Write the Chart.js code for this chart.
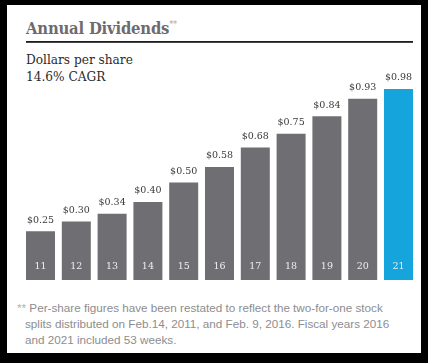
<!DOCTYPE html>
<html>
<head>
<meta charset="utf-8">
<script src="https://cdn.jsdelivr.net/npm/chart.js@4"></script>
<style>
  html, body { margin: 0; padding: 0; }
  body { width: 428px; height: 363px; background: #000; position: relative; overflow: hidden; }
  .panel { position: absolute; left: 7px; top: 5px; width: 414px; height: 348px; background: #fff; }
  .title { position: absolute; left: 19px; top: 14px; font-family: "DejaVu Serif"; font-stretch: condensed; font-weight: bold; font-size: 16.5px; color: #6d6b6e; letter-spacing: -0.2px; }
  .title sup { font-size: 9px; color: #a9a9ab; font-weight: normal; vertical-align: 7px; }
  .rule { position: absolute; left: 19px; top: 36px; width: 387px; height: 1px; background: #1e1e1e; border-bottom: 0.5px solid #444; }
  .sub { position: absolute; left: 19px; font-family: "DejaVu Serif"; font-stretch: condensed; font-size: 13.5px; color: #2b2b2b; }
  .note { position: absolute; left: 0; top: 295px; width: 370px; font-family: "Liberation Sans", Arial, sans-serif; font-size: 11.7px; line-height: 16px; color: #8d8d8f; padding-left: 18px; text-indent: -8px; }
  .note span { color: #b0b0b2; }
  canvas { position: absolute; left: 0; top: 0; }
</style>
</head>
<body>
<div class="panel">
  <div class="title">Annual Dividends<sup>**</sup></div>
  <div class="rule"></div>
  <div class="sub" style="top:46px">Dollars per share</div>
  <div class="sub" style="top:63px">14.6% CAGR</div>
  <div class="note"><span>**</span> Per-share figures have been restated to reflect the two-for-one stock splits distributed on Feb.14, 2011, and Feb. 9, 2016. Fiscal years 2016 and 2021 included 53 weeks.</div>
</div>
<canvas id="chart" width="428" height="363"></canvas>
<script>
const years = ["11", "12", "13", "14", "15", "16", "17", "18", "19", "20", "21"];
const dividends = [0.25, 0.30, 0.34, 0.40, 0.50, 0.58, 0.68, 0.75, 0.84, 0.93, 0.98];
const barColors = ["#6f6e72", "#6f6e72", "#6f6e72", "#6f6e72", "#6f6e72", "#6f6e72", "#6f6e72", "#6f6e72", "#6f6e72", "#6f6e72", "#16a4dd"];

// value above each bar, year label inside the bottom of it
const barLabels = {
  id: "barLabels",
  afterDatasetsDraw(chart) {
    const c = chart.ctx;
    const meta = chart.getDatasetMeta(0);
    c.save();
    c.font = "9.5px 'DejaVu Serif'";
    c.textAlign = "center";
    c.textBaseline = "middle";
    meta.data.forEach((bar, i) => {
      c.fillStyle = "#3a3a3a";
      c.fillText("$" + dividends[i].toFixed(2), bar.x, bar.y - 11);
      c.fillStyle = "#eeeeee";
      c.fillText(years[i], bar.x, bar.base - 13);
    });
    c.restore();
  }
};

new Chart(document.getElementById("chart"), {
  type: "bar",
  data: {
    labels: years,
    datasets: [{
      data: dividends,
      backgroundColor: barColors,
      categoryPercentage: 1,
      barPercentage: 0.81,
    }],
  },
  options: {
    responsive: false,
    animation: false,
    layout: { padding: { left: 22.6, right: 11.6, top: 85, bottom: 83 } },
    plugins: { legend: { display: false }, tooltip: { enabled: false } },
    scales: {
      x: { display: false },
      y: { display: false, min: 0, max: 1.0 },
    },
  },
  plugins: [barLabels],
});
</script>
</body>
</html>
